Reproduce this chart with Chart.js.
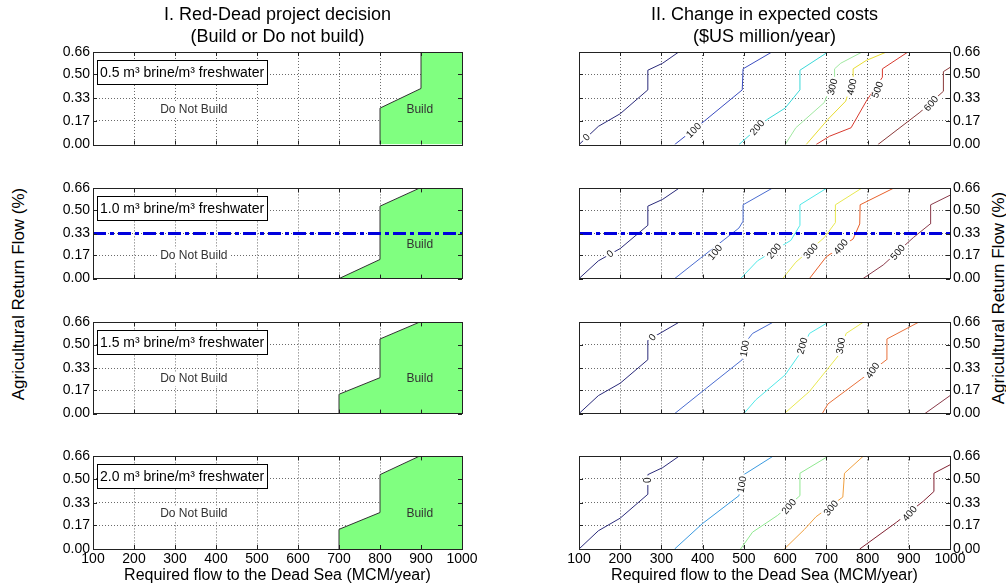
<!DOCTYPE html>
<html>
<head>
<meta charset="utf-8">
<script src="https://cdn.jsdelivr.net/npm/chart.js@4.4.0/dist/chart.umd.min.js"></script>
<style>
  body { margin: 0; background: #fff; width: 1006px; height: 586px; overflow: hidden; position: relative;
         font-family: "Liberation Sans", Arial, sans-serif; }
  canvas { position: absolute; }
  .ytitle { position: absolute; font-size: 17px; white-space: nowrap; color: #000;
            transform: translate(-50%, -50%) rotate(-90deg); }
</style>
</head>
<body>
<div class="ytitle" style="left:19px;top:294px">Agricultural Return Flow (%)</div>
<div class="ytitle" style="left:999px;top:298px">Agricultural Return Flow (%)</div>
<script>
// data
const flowTicks = [100, 200, 300, 400, 500, 600, 700, 800, 900, 1000];
const returnTicks = [0, 0.17, 0.33, 0.50, 0.66];
const brineRatios = ['0.5', '1.0', '1.5', '2.0'];
const policyReturn = 0.33; // dash-dot line, second row only

// upper edge of the green "Build" area (filled down to 0)
const buildX = [
  [800, 800, 900, 900, 1000],
  [700, 800, 800, 895, 1000],
  [700, 700, 800, 800, 895, 1000],
  [700, 700, 800, 800, 895, 1000]
];
const buildY = [
  [0, 0.26, 0.40, 0.66, 0.66],
  [0, 0.14, 0.53, 0.66, 0.66],
  [0, 0.14, 0.26, 0.54, 0.66, 0.66],
  [0, 0.14, 0.26, 0.53, 0.66, 0.66]
];

// cost contours ($US million/year)
const costLevels = [
  [0, 100, 200, 300, 400, 500, 600],
  [0, 100, 200, 300, 400, 500],
  [0, 100, 200, 300, 400, 500],
  [0, 100, 200, 300, 400]
];
const costX = [
  [
    [100, 147, 200, 267, 267, 303, 342],
    [332, 405, 496, 498, 568],
    [488, 557, 600, 636, 636, 704],
    [600, 626, 695, 720, 720, 735, 787],
    [651, 704, 747, 765, 765, 797, 846],
    [675, 708, 760, 797, 836, 836, 898],
    [825, 927, 984, 984, 1000]
  ],
  [
    [100, 147, 200, 267, 267, 303, 342],
    [332, 395, 488, 498, 498, 568],
    [492, 533, 614, 636, 636, 700],
    [594, 626, 695, 722, 722, 785],
    [659, 700, 765, 781, 782, 862],
    [789, 838, 911, 952, 953, 1000]
  ],
  [
    [100, 147, 200, 267, 267, 342],
    [332, 399, 496, 500, 521, 570],
    [500, 529, 600, 635, 659, 704],
    [598, 659, 732, 748, 789],
    [690, 704, 785, 846, 847, 923],
    [939, 1000]
  ],
  [
    [100, 147, 200, 267, 267, 303, 342],
    [332, 399, 488, 500, 570],
    [492, 521, 582, 636, 636, 704],
    [598, 647, 675, 740, 744, 789],
    [781, 870, 935, 961, 961, 1000]
  ]
];
const costY = [
  [
    [0, 0.13, 0.22, 0.39, 0.53, 0.58, 0.66],
    [0, 0.17, 0.39, 0.54, 0.66],
    [0, 0.18, 0.26, 0.39, 0.53, 0.66],
    [0, 0.12, 0.30, 0.48, 0.54, 0.58, 0.66],
    [0, 0.18, 0.31, 0.48, 0.54, 0.60, 0.66],
    [0, 0.06, 0.12, 0.31, 0.48, 0.54, 0.66],
    [0, 0.23, 0.38, 0.52, 0.55]
  ],
  [
    [0, 0.13, 0.22, 0.39, 0.53, 0.58, 0.66],
    [0, 0.15, 0.37, 0.42, 0.54, 0.66],
    [0, 0.13, 0.28, 0.39, 0.54, 0.66],
    [0, 0.12, 0.30, 0.41, 0.54, 0.66],
    [0, 0.16, 0.29, 0.40, 0.54, 0.66],
    [0, 0.10, 0.30, 0.40, 0.54, 0.61]
  ],
  [
    [0, 0.13, 0.22, 0.39, 0.53, 0.66],
    [0, 0.16, 0.39, 0.50, 0.58, 0.66],
    [0, 0.10, 0.28, 0.43, 0.58, 0.66],
    [0, 0.16, 0.43, 0.58, 0.66],
    [0, 0.07, 0.25, 0.39, 0.54, 0.66],
    [0, 0.13]
  ],
  [
    [0, 0.13, 0.22, 0.39, 0.53, 0.58, 0.66],
    [0, 0.18, 0.38, 0.53, 0.66],
    [0, 0.12, 0.24, 0.38, 0.54, 0.66],
    [0, 0.14, 0.23, 0.37, 0.54, 0.66],
    [0, 0.19, 0.34, 0.41, 0.54, 0.60]
  ]
];
// where the contour labels sit (flow, return flow, text angle); the 500 line in row 3 has none
const labelX = [
  [119, 379, 533, 716, 763, 825, 955],
  [176, 431, 574, 663, 736, 874],
  [279, 503, 643, 736, 813],
  [269, 496, 610, 712, 903]
];
const labelY = [
  [0.05, 0.10, 0.12, 0.41, 0.41, 0.39, 0.29],
  [0.18, 0.19, 0.20, 0.20, 0.23, 0.19],
  [0.55, 0.47, 0.49, 0.49, 0.31],
  [0.49, 0.46, 0.30, 0.29, 0.25]
];
const labelAngle = [
  [-45, -45, -50, -75, -78, -70, -50],
  [-40, -50, -50, -50, -50, -50],
  [-50, -80, -75, -80, -55],
  [-90, -80, -50, -50, -50]
];
const costColors = [
  ['#2a2a7a', '#3a4cc0', '#3ad8d8', '#a0e8a0', '#e8dc30', '#d83a2e', '#8a3a3a'],
  ['#2a2a7a', '#4a6cd0', '#50e8e8', '#e8e850', '#e8602a', '#8a3a4a'],
  ['#2a2a7a', '#4a6cd0', '#50e8e8', '#e8e850', '#e8703a', '#8a3a4a'],
  ['#2a2a7a', '#3a9ae0', '#90e890', '#f0a040', '#802030']
];

const FONT = '"Liberation Sans", Arial, sans-serif';
const GRID = '#6a6a6a';

// canvas placement of the four rows
const rows = [
  { top: 0, height: 156, padTop: 0, padBottom: 10 },
  { top: 177, height: 113, padTop: 10, padBottom: 10 },
  { top: 311, height: 114, padTop: 10, padBottom: 10 },
  { top: 445, height: 141, padTop: 10, padBottom: 0 }
];

// box + inward tick marks like matlab
const frame = {
  id: 'frame',
  afterDatasetsDraw(chart) {
    const { ctx, chartArea: a, scales: { x, y } } = chart;
    ctx.save();
    ctx.strokeStyle = '#222';
    ctx.lineWidth = 1;
    ctx.beginPath();
    flowTicks.forEach((v) => {
      const px = Math.round(x.getPixelForValue(v)) + 0.5;
      ctx.moveTo(px, a.bottom); ctx.lineTo(px, a.bottom - 4);
      ctx.moveTo(px, a.top); ctx.lineTo(px, a.top + 4);
    });
    returnTicks.forEach((v) => {
      const py = Math.round(y.getPixelForValue(v)) + 0.5;
      ctx.moveTo(a.left, py); ctx.lineTo(a.left + 4, py);
      ctx.moveTo(a.right, py); ctx.lineTo(a.right - 4, py);
    });
    ctx.stroke();
    ctx.strokeRect(Math.round(a.left) + 0.5, Math.round(a.top) + 0.5,
      Math.round(a.right - a.left), Math.round(a.bottom - a.top));
    ctx.restore();
  }
};

// "Do Not Build", "Build" and the brine ratio box
const decisionText = {
  id: 'decisionText',
  afterDatasetsDraw(chart, args, o) {
    const { ctx, scales: { x, y } } = chart;
    ctx.save();
    ctx.textBaseline = 'middle';
    ctx.textAlign = 'center';
    ctx.font = '12px ' + FONT;
    const px = x.getPixelForValue(346), py = y.getPixelForValue(o.dnbY);
    const w = ctx.measureText('Do Not Build').width;
    ctx.fillStyle = '#fff';
    ctx.fillRect(px - w / 2 - 3, py - 7, w + 6, 14);
    ctx.fillStyle = '#333';
    ctx.fillText('Do Not Build', px, py);
    ctx.fillText('Build', x.getPixelForValue(897), y.getPixelForValue(0.25));

    ctx.font = '14px ' + FONT;
    const t = o.ratio + ' m³ brine/m³ freshwater';
    const tw = ctx.measureText(t).width;
    const bx = Math.round(x.getPixelForValue(110)), by = Math.round(y.getPixelForValue(0.52));
    ctx.fillStyle = '#fff';
    ctx.fillRect(bx, by - 12, tw + 6, 24);
    ctx.strokeStyle = '#000';
    ctx.strokeRect(bx + 0.5, by - 11.5, Math.round(tw + 6), 24);
    ctx.fillStyle = '#000';
    ctx.textAlign = 'left';
    ctx.fillText(t, bx + 3, by + 1);
    ctx.restore();
  }
};

// rotated clabel-style numbers with a white gap under them
const contourLabels = {
  id: 'contourLabels',
  afterDatasetsDraw(chart, args, o) {
    const { ctx, scales: { x, y } } = chart;
    ctx.save();
    ctx.font = '10px ' + FONT;
    ctx.textAlign = 'center';
    ctx.textBaseline = 'middle';
    costLevels[o.panel].forEach((lev, i) => {
      if (labelX[o.panel][i] === undefined) return;
      const txt = String(lev);
      ctx.save();
      ctx.translate(x.getPixelForValue(labelX[o.panel][i]), y.getPixelForValue(labelY[o.panel][i]));
      ctx.rotate(labelAngle[o.panel][i] * Math.PI / 180);
      const w = ctx.measureText(txt).width;
      ctx.fillStyle = '#fff';
      ctx.fillRect(-w / 2 - 2, -5, w + 4, 10);
      ctx.fillStyle = '#111';
      ctx.fillText(txt, 0, 0);
      ctx.restore();
    });
    ctx.restore();
  }
};

function edgeColor(ctx, lo, hi) {
  if (!ctx.tick) return GRID;
  return (ctx.tick.value === lo || ctx.tick.value === hi) ? 'rgba(0,0,0,0)' : GRID;
}

function xScale(row) {
  const last = row === 3;
  return {
    type: 'linear',
    min: 100,
    max: 1000,
    afterBuildTicks: (s) => { s.ticks = flowTicks.map((v) => ({ value: v })); },
    ticks: {
      display: last,
      callback: (v) => String(v),
      font: { size: 14, family: FONT },
      color: '#000',
      padding: 2,
      maxRotation: 0,
      autoSkip: false
    },
    grid: { color: (c) => edgeColor(c, 100, 1000), drawTicks: false, tickLength: 0 },
    border: { display: false, dash: [1, 2] },
    title: {
      display: last,
      text: 'Required flow to the Dead Sea (MCM/year)',
      font: { size: 16, family: FONT },
      color: '#000',
      padding: { top: 0, bottom: 1 }
    },
    afterFit: (s) => { s.height = last ? 37 : 0; }
  };
}

function yScale(side) {
  return {
    type: 'linear',
    position: side,
    min: 0,
    max: 0.66,
    afterBuildTicks: (s) => { s.ticks = returnTicks.map((v) => ({ value: v })); },
    ticks: {
      callback: (v) => v.toFixed(2),
      font: { size: 14, family: FONT },
      color: '#000',
      padding: 3,
      autoSkip: false
    },
    grid: { color: (c) => edgeColor(c, 0, 0.66), drawTicks: false, tickLength: 0 },
    border: { display: false, dash: [1, 2] },
    afterFit: (s) => { s.width = side === 'left' ? 93 : 56; }
  };
}

function titleOpts(row, text) {
  return {
    display: row === 0,
    text: text,
    fullSize: false,
    color: '#000',
    font: { size: 18, family: FONT, weight: 'normal', lineHeight: 1.222 },
    padding: { top: 4, bottom: 4 }
  };
}

function addCanvas(left, top, width, height) {
  const c = document.createElement('canvas');
  c.width = width;
  c.height = height;
  c.style.left = left + 'px';
  c.style.top = top + 'px';
  c.style.width = width + 'px';
  c.style.height = height + 'px';
  document.body.appendChild(c);
  return c.getContext('2d');
}

function policyLine() {
  return {
    data: [{ x: 100, y: policyReturn }, { x: 1000, y: policyReturn }],
    showLine: true,
    borderColor: '#0000dd',
    borderWidth: 3,
    borderDash: [13, 4, 4, 4],
    pointRadius: 0,
    fill: false
  };
}

rows.forEach((r, row) => {
  // left column: build decision
  const leftSets = [];
  if (row === 1) leftSets.push(policyLine());
  leftSets.push({
    data: buildX[row].map((v, k) => ({ x: v, y: buildY[row][k] })),
    showLine: true,
    borderColor: '#333',
    borderWidth: 1,
    backgroundColor: '#80ff80',
    pointRadius: 0,
    fill: 'origin'
  });
  new Chart(addCanvas(0, r.top, 485, r.height), {
    type: 'scatter',
    data: { datasets: leftSets },
    options: {
      responsive: false,
      animation: false,
      events: [],
      layout: { padding: { left: 0, right: 23, top: r.padTop, bottom: r.padBottom } },
      scales: { x: xScale(row), y: yScale('left') },
      plugins: {
        legend: { display: false },
        tooltip: { enabled: false },
        title: titleOpts(row, ['I. Red-Dead project decision', '(Build or Do not build)']),
        decisionText: { ratio: brineRatios[row], dnbY: row === 1 ? 0.17 : 0.25 }
      }
    },
    plugins: [frame, decisionText]
  });

  // right column: change in expected costs
  const rightSets = [];
  if (row === 1) rightSets.push(policyLine());
  costX[row].forEach((xs, i) => {
    rightSets.push({
      data: xs.map((v, k) => ({ x: v, y: costY[row][i][k] })),
      showLine: true,
      borderColor: costColors[row][i],
      borderWidth: 1,
      pointRadius: 0,
      fill: false
    });
  });
  new Chart(addCanvas(560, r.top, 446, r.height), {
    type: 'scatter',
    data: { datasets: rightSets },
    options: {
      responsive: false,
      animation: false,
      events: [],
      layout: { padding: { left: 19, right: 0, top: r.padTop, bottom: r.padBottom } },
      scales: { x: xScale(row), y: yScale('right') },
      plugins: {
        legend: { display: false },
        tooltip: { enabled: false },
        title: titleOpts(row, ['II. Change in expected costs', '($US million/year)']),
        contourLabels: { panel: row }
      }
    },
    plugins: [frame, contourLabels]
  });
});
</script>
</body>
</html>
